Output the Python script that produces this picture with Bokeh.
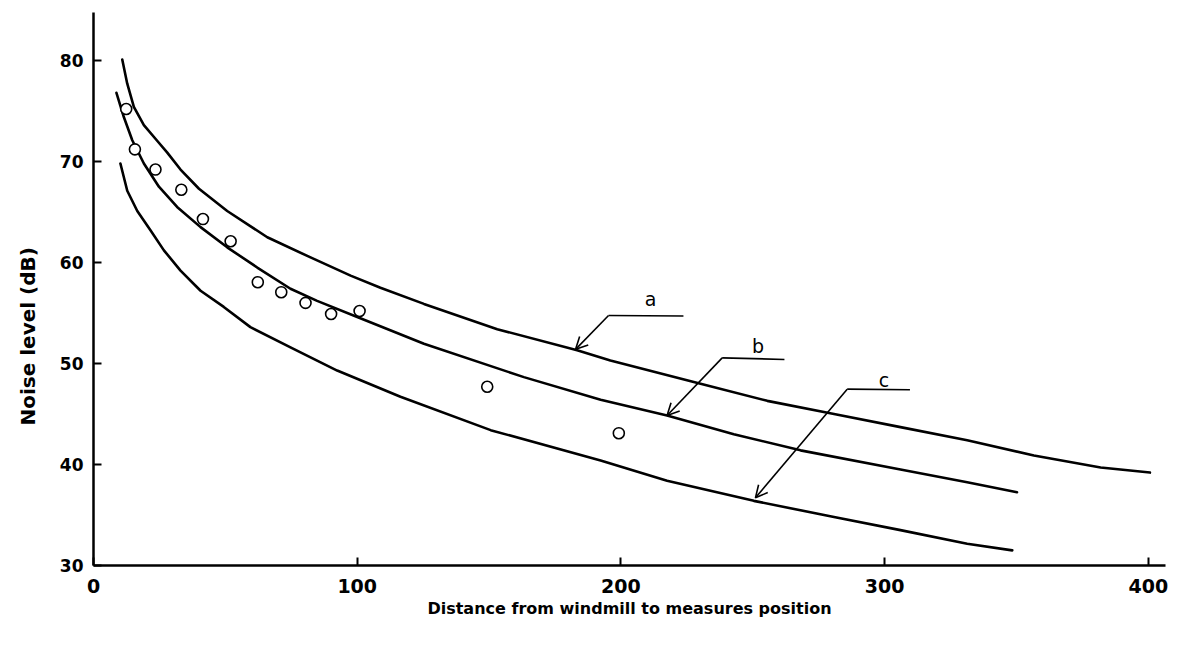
from bokeh.plotting import figure
from bokeh.models import (Range1d, FixedTicker, Label, Arrow, OpenHead,
                          ColumnDataSource, Title)
from bokeh.embed import file_html
from bokeh.resources import INLINE

# Measured noise levels (dB) at distances from the windmill
measured_distance = [12.4, 15.7, 23.5, 33.3, 41.5, 52, 62.3, 71.2, 80.4, 90.1, 100.9, 149.3, 199.2]
measured_level = [75.2, 71.2, 69.2, 67.2, 64.3, 62.1, 58.05, 57.06, 56.0, 54.9, 55.2, 47.7, 43.1]

# Curve a
distance_a = [10.9, 12.8, 15.3, 19.1, 24.3, 27.9, 33, 40, 50.7, 65.9, 82.3, 97.5,
              108.8, 125.3, 153.1, 183.4, 196, 230.2, 255.5, 280.8, 306, 331.3,
              356.6, 381.9, 400.6]
level_a = [80.1, 77.7, 75.4, 73.6, 72.0, 70.9, 69.2, 67.3, 65.1, 62.5, 60.5, 58.7,
           57.5, 55.9, 53.4, 51.3, 50.3, 48.0, 46.3, 45.0, 43.7, 42.4,
           40.9, 39.7, 39.2]

# Curve b
distance_b = [8.7, 11.5, 14.7, 19.1, 24.8, 31.7, 40.6, 50.7, 62.1, 74.7, 84.8, 100,
              125.3, 163.2, 192.3, 217.5, 242.8, 268.1, 306, 331.3, 350.2]
level_b = [76.8, 74.4, 72.1, 69.8, 67.5, 65.5, 63.5, 61.5, 59.5, 57.4, 56.2, 54.6,
           51.95, 48.65, 46.4, 44.85, 43.0, 41.4, 39.5, 38.25, 37.25]

# Curve c
distance_c = [10.2, 12.8, 16.6, 21.6, 26.7, 33, 40.6, 49.4, 59.5, 74.7, 92.4, 116.4,
              150.6, 192.3, 217.5, 250.4, 280.8, 306, 331.3, 348.4]
level_c = [69.8, 67.1, 65.1, 63.2, 61.2, 59.2, 57.2, 55.6, 53.6, 51.6, 49.3, 46.7,
           43.4, 40.4, 38.4, 36.4, 34.8, 33.5, 32.15, 31.5]

x_ticks = [0, 100, 200, 300, 400]
y_ticks = [30, 40, 50, 60, 70, 80]

# Curve call-outs: name, text position, leader shelf (start, end), arrow tip
callouts = [
    ("a", (211.2, 56.4), (195.3, 54.75), (223.7, 54.7), (182.8, 51.4)),
    ("b", (252.0, 51.7), (238.4, 50.56), (262.0, 50.4), (217.5, 44.85)),
    ("c", (299.7, 48.4), (285.8, 47.46), (309.6, 47.4), (251.0, 36.7)),
]

p = figure(frame_width=1072, frame_height=553,
           min_border_left=93, min_border_right=17,
           min_border_top=12, min_border_bottom=80,
           x_range=Range1d(0, 406.5), y_range=Range1d(30, 84.75),
           output_backend="svg", toolbar_location=None,
           background_fill_color="white", border_fill_color="white")
p.outline_line_color = None
p.xgrid.visible = False
p.ygrid.visible = False

for ax, ticks in ((p.xaxis[0], x_ticks), (p.yaxis[0], y_ticks)):
    ax.ticker = FixedTicker(ticks=ticks)
    ax.minor_tick_line_color = None
    ax.major_tick_in = 8
    ax.major_tick_out = 0
    ax.axis_line_width = 2.5
    ax.major_tick_line_width = 2
    ax.axis_line_color = "black"
    ax.major_tick_line_color = "black"
    ax.major_label_text_font = "DejaVu Sans"
    ax.major_label_text_font_style = "bold"
    ax.major_label_text_color = "black"

p.yaxis.major_label_text_font_size = "17px"
p.yaxis.major_label_standoff = 10
p.xaxis.major_label_text_font_size = "19px"
p.xaxis.major_label_standoff = 13

p.xaxis.axis_label = "Distance from windmill to measures position"
p.xaxis.axis_label_text_font = "DejaVu Sans"
p.xaxis.axis_label_text_font_style = "bold"
p.xaxis.axis_label_text_font_size = "16px"
p.xaxis.axis_label_text_color = "black"
p.xaxis.axis_label_standoff = 3

# Vertical axis title, placed in the left margin
p.add_layout(Title(text="Noise level (dB)", align="left", offset=140, standoff=30,
                   vertical_align="top",
                   text_font="DejaVu Sans", text_font_style="bold",
                   text_font_size="20px", text_color="black"), "left")

for xs, ys in ((distance_a, level_a), (distance_b, level_b), (distance_c, level_c)):
    p.line(xs, ys, line_color="black", line_width=2.6, line_join="round", line_cap="round")

pts = ColumnDataSource(dict(x=measured_distance, y=measured_level))
p.scatter("x", "y", source=pts, size=11, marker="circle",
          fill_color="white", line_color="black", line_width=1.6)

for name, (tx, ty), (sx0, sy0), (sx1, sy1), (hx, hy) in callouts:
    p.segment(x0=[sx0], y0=[sy0], x1=[sx1], y1=[sy1], line_color="black", line_width=1.6)
    p.add_layout(Arrow(x_start=sx0, y_start=sy0, x_end=hx, y_end=hy,
                       line_color="black", line_width=1.6,
                       end=OpenHead(size=12, line_color="black", line_width=1.6)))
    p.add_layout(Label(x=tx, y=ty, text=name, text_font="DejaVu Sans",
                       text_font_size="19px", text_color="black",
                       text_align="center", text_baseline="middle"))

open("out.html", "w").write(file_html(p, INLINE))
